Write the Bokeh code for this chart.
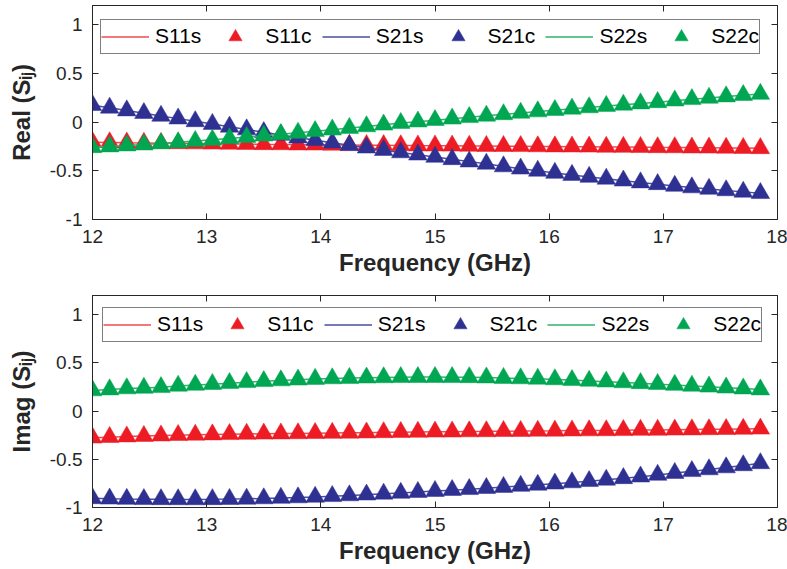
from bokeh.plotting import figure
from bokeh.layouts import column
from bokeh.models import (Range1d, FixedTicker, LinearAxis, Legend, LegendItem,
                          CustomLabelingPolicy)
from bokeh.embed import file_html
from bokeh.resources import INLINE

# ---------------- data ----------------
freq = [12.0, 12.15, 12.3, 12.45, 12.6, 12.75, 12.9, 13.05, 13.2, 13.35,
        13.5, 13.65, 13.8, 13.95, 14.1, 14.25, 14.4, 14.55, 14.7, 14.85,
        15.0, 15.15, 15.3, 15.45, 15.6, 15.75, 15.9, 16.05, 16.2, 16.35,
        16.5, 16.65, 16.8, 16.95, 17.1, 17.25, 17.4, 17.55, 17.7, 17.85]

real_s11 = [-0.205, -0.208, -0.211, -0.213, -0.215, -0.217, -0.219, -0.221, -0.223, -0.225,
            -0.227, -0.228, -0.230, -0.231, -0.233, -0.234, -0.236, -0.237, -0.238, -0.240,
            -0.241, -0.242, -0.244, -0.245, -0.246, -0.247, -0.249, -0.250, -0.251, -0.252,
            -0.254, -0.255, -0.256, -0.258, -0.259, -0.261, -0.262, -0.264, -0.266, -0.268]
real_s21 = [0.175, 0.148, 0.120, 0.093, 0.065, 0.037, 0.009, -0.019, -0.047, -0.075,
            -0.103, -0.131, -0.158, -0.185, -0.211, -0.237, -0.262, -0.287, -0.311, -0.334,
            -0.357, -0.381, -0.405, -0.428, -0.455, -0.478, -0.500, -0.522, -0.543, -0.563,
            -0.582, -0.601, -0.620, -0.638, -0.655, -0.671, -0.686, -0.701, -0.716, -0.730]
real_s22 = [-0.258, -0.250, -0.240, -0.230, -0.219, -0.207, -0.194, -0.181, -0.167, -0.153,
            -0.139, -0.124, -0.109, -0.093, -0.077, -0.060, -0.043, -0.026, -0.009, 0.006,
            0.021, 0.036, 0.051, 0.066, 0.081, 0.096, 0.110, 0.124, 0.138, 0.152,
            0.166, 0.179, 0.192, 0.205, 0.222, 0.236, 0.250, 0.264, 0.278, 0.290]

imag_s11 = [-0.276, -0.270, -0.264, -0.259, -0.254, -0.249, -0.246, -0.243, -0.240, -0.237,
            -0.235, -0.233, -0.231, -0.229, -0.227, -0.225, -0.223, -0.220, -0.218, -0.216,
            -0.214, -0.213, -0.211, -0.210, -0.208, -0.207, -0.205, -0.204, -0.202, -0.201,
            -0.200, -0.198, -0.196, -0.195, -0.193, -0.191, -0.189, -0.187, -0.185, -0.183]
imag_s21 = [-0.905, -0.909, -0.912, -0.914, -0.915, -0.916, -0.916, -0.915, -0.913, -0.910,
            -0.906, -0.901, -0.896, -0.890, -0.883, -0.875, -0.867, -0.858, -0.849, -0.840,
            -0.830, -0.820, -0.810, -0.799, -0.788, -0.777, -0.765, -0.753, -0.740, -0.727,
            -0.713, -0.697, -0.680, -0.662, -0.643, -0.624, -0.605, -0.585, -0.563, -0.542]
imag_s22 = [0.214, 0.224, 0.235, 0.241, 0.248, 0.262, 0.272, 0.280, 0.290, 0.300,
            0.310, 0.318, 0.326, 0.333, 0.339, 0.343, 0.347, 0.350, 0.352, 0.353,
            0.353, 0.352, 0.351, 0.348, 0.343, 0.339, 0.335, 0.329, 0.322, 0.314,
            0.306, 0.298, 0.289, 0.280, 0.271, 0.262, 0.253, 0.243, 0.234, 0.224]

series_names = ["S11", "S21", "S22"]
marker_colors = ["#ED1C24", "#2E3192", "#00A651"]
line_colors = ["#EF4A50", "#4A4E9E", "#2DB36A"]

x_ticks = [12, 13, 14, 15, 16, 17, 18]
y_ticks = [-1, -0.5, 0, 0.5, 1]
y_tick_labels = ["-1", "-0.5", "0", "0.5", "1"]
x_label = "Frequency (GHz)"
y_labels = ["Real (S\u1d62\u2c7c)", "Imag (S\u1d62\u2c7c)"]

FONT = "Liberation Sans"
AX = "#262626"
X0, X1, Y0, Y1 = 12, 18, -1, 1.2
W, B_LEFT, B_RIGHT = 787, 92, 10


def style_axis(ax, show_labels=True):
    ax.axis_line_color = AX
    ax.axis_line_width = 1
    ax.major_tick_line_color = AX
    ax.major_tick_in = 6
    ax.major_tick_out = 0
    ax.minor_tick_line_color = None
    if show_labels:
        ax.major_label_text_font = FONT
        ax.major_label_text_font_size = "19px"
        ax.major_label_text_color = AX
    else:
        # tick marks only (box style): no labels are drawn at all
        ax.major_label_policy = CustomLabelingPolicy(code="return new Set()")
        ax.major_label_text_font_size = "1px"
        ax.major_label_standoff = 0


def make_panel(values, height, b_top, b_bottom, y_label, legend_off):
    p = figure(width=W, height=height, x_range=Range1d(X0, X1), y_range=Range1d(Y0, Y1),
               output_backend="svg", toolbar_location=None,
               min_border_left=B_LEFT, min_border_right=B_RIGHT,
               min_border_top=b_top, min_border_bottom=b_bottom)
    p.grid.visible = False
    p.outline_line_color = AX
    p.outline_line_width = 1
    p.background_fill_color = "white"
    p.border_fill_color = "white"

    xb = p.below[0]
    xb.ticker = FixedTicker(ticks=x_ticks)
    style_axis(xb)
    xb.major_label_standoff = 10
    xb.axis_label = x_label
    xb.axis_label_text_font = FONT
    xb.axis_label_text_font_size = "24px"
    xb.axis_label_text_font_style = "bold"
    xb.axis_label_text_color = AX
    xb.axis_label_standoff = 3

    yl = p.left[0]
    yl.ticker = FixedTicker(ticks=y_ticks)
    yl.major_label_overrides = {t: s for t, s in zip(y_ticks, y_tick_labels)}
    style_axis(yl)
    yl.major_label_standoff = 10
    yl.axis_label = y_label
    yl.axis_label_text_font = FONT
    yl.axis_label_text_font_size = "24px"
    yl.axis_label_text_font_style = "bold"
    yl.axis_label_text_color = AX
    yl.axis_label_standoff = 12

    xa = LinearAxis(ticker=FixedTicker(ticks=x_ticks))
    style_axis(xa, show_labels=False)
    p.add_layout(xa, "above")
    yr = LinearAxis(ticker=FixedTicker(ticks=y_ticks))
    style_axis(yr, show_labels=False)
    p.add_layout(yr, "right")

    items = []
    for name, vals, mc, lc in zip(series_names, values, marker_colors, line_colors):
        r_line = p.line(freq, vals, line_color=lc, line_width=1.5)
        r_mark = p.scatter(freq, vals, marker="triangle", size=18.5,
                           fill_color=mc, line_color=mc, line_width=0.5)
        items.append(LegendItem(label=name + "s", renderers=[r_line]))
        items.append(LegendItem(label=name + "c", renderers=[r_mark]))

    frame_h = height - b_top - b_bottom
    legend_h = 33
    legend = Legend(items=items, orientation="horizontal",
                    location=(legend_off[0], frame_h - legend_off[1] - legend_h),
                    border_line_color="black", border_line_width=1,
                    background_fill_color="white", background_fill_alpha=1,
                    label_text_font=FONT, label_text_font_size="21px", label_text_color="black",
                    glyph_width=48, glyph_height=33, padding=0, spacing=10,
                    label_standoff=6, margin=0)
    p.add_layout(legend)
    return p


p1 = make_panel([real_s11, real_s21, real_s22], 285, 5, 66, y_labels[0], (8, 15.5))
p2 = make_panel([imag_s11, imag_s21, imag_s22], 284, 10, 62, y_labels[1], (10, 13.5))

layout = column(p1, p2, spacing=0)
open("out.html", "w").write(file_html(layout, INLINE))
